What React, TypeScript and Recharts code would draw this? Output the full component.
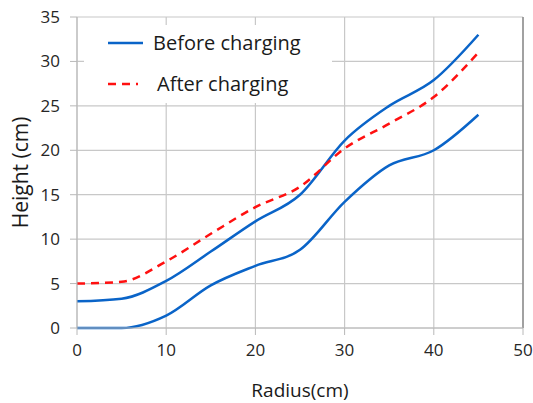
import React from 'react';
import {
  LineChart,
  Line,
  XAxis,
  YAxis,
  CartesianGrid,
  ReferenceLine,
} from 'recharts';

const radius = [0, 5, 10, 15, 20, 25, 30, 35, 40, 45];
const beforeUpper = [3, 3.3, 5.3, 8.6, 12.0, 15.0, 21.1, 25.0, 27.9, 33.0];
const afterCharging = [5, 5.2, 7.5, 10.6, 13.6, 15.9, 20.2, 23.0, 26.0, 31.0];
const beforeLower = [0, 0, 1.4, 4.8, 7.0, 8.8, 14.2, 18.3, 20.0, 24.0];

const xTicks = [0, 10, 20, 30, 40, 50];
const yTicks = [0, 5, 10, 15, 20, 25, 30, 35];

const data = radius.map((r, i) => ({
  r,
  upper: beforeUpper[i],
  after: afterCharging[i],
  lower: beforeLower[i],
}));

const BLUE = '#0a64c8';
const RED = '#ff1010';
const FONT = '"Open Sans", "Noto Sans", sans-serif';

// legend sits on a white box over the grid, like the original
const LegendBox = () => (
  <svg
    width={248}
    height={78}
    style={{ position: 'absolute', left: 84, top: 25, background: '#fff' }}
  >
    <line x1={24} y1={18} x2={59} y2={18} stroke={BLUE} strokeWidth={2.5} />
    <line x1={24} y1={59} x2={54} y2={59} stroke={RED} strokeWidth={2.5} strokeDasharray="8 6" />
    <text x={69} y={25} fontSize={20} fill="#1a1a1a" fontFamily={FONT}>Before charging</text>
    <text x={73} y={66} fontSize={20} fill="#1a1a1a" fontFamily={FONT}>After charging</text>
  </svg>
);

export default function App() {
  return (
    <div style={{ position: 'absolute', left: 0, top: 0, width: 533, height: 403, background: '#fff' }}>
      <LineChart
        width={533}
        height={403}
        data={data}
        margin={{ top: 17, right: 10, left: 0, bottom: 0 }}
      >
        <CartesianGrid stroke="#c8c8c8" strokeWidth={1.2} />
        <XAxis
          dataKey="r"
          type="number"
          domain={[0, 50]}
          ticks={xTicks}
          height={75}
          tickSize={7}
          tickMargin={9}
          stroke="#b8b8b8"
          tick={{ fill: '#262626', fontSize: 17, fontFamily: FONT }}
          label={{
            value: 'Radius(cm)',
            position: 'insideBottom',
            offset: 6,
            fill: '#1a1a1a',
            fontSize: 19,
            fontFamily: FONT,
          }}
        />
        <YAxis
          type="number"
          domain={[0, 35]}
          ticks={yTicks}
          width={77}
          tickSize={7}
          tickMargin={10}
          stroke="#b8b8b8"
          tick={{ fill: '#262626', fontSize: 17, fontFamily: FONT }}
          label={{
            value: 'Height (cm)',
            angle: -90,
            position: 'insideLeft',
            offset: 21,
            style: { textAnchor: 'middle' },
            fill: '#1a1a1a',
            fontSize: 21,
            fontFamily: FONT,
          }}
        />
        <ReferenceLine x={50} stroke="#8c8c8c" strokeWidth={1.5} />
        <Line
          type="monotone"
          dataKey="lower"
          stroke={BLUE}
          strokeWidth={2.5}
          dot={false}
          legendType="none"
          isAnimationActive={false}
        />
        <Line
          type="monotone"
          dataKey="upper"
          name="Before charging"
          stroke={BLUE}
          strokeWidth={2.5}
          dot={false}
          isAnimationActive={false}
        />
        <Line
          type="monotone"
          dataKey="after"
          name="After charging"
          stroke={RED}
          strokeWidth={2.5}
          strokeDasharray="8 6"
          dot={false}
          isAnimationActive={false}
        />
      </LineChart>
      <LegendBox />
    </div>
  );
}
